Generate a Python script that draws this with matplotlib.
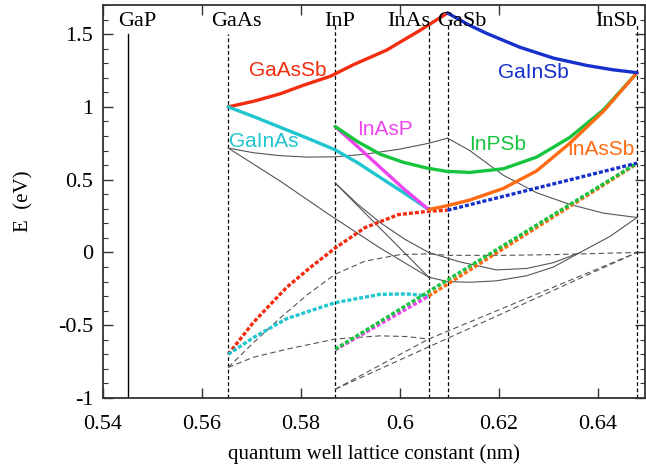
import matplotlib
matplotlib.use("Agg")
import matplotlib.pyplot as plt
from matplotlib.ticker import MultipleLocator, FormatStrFormatter

plt.rcParams['axes.unicode_minus'] = False

# binary end points (lattice constant, nm)
materials = ['GaP', 'GaAs', 'InP', 'InAs', 'GaSb', 'InSb']
lattice = [0.5451, 0.5653, 0.5869, 0.6058, 0.6096, 0.6479]
label_x = [0.5469, 0.5669, 0.5879, 0.6018, 0.6125, 0.6436]
line_top = [1.5, 1.5, 1.56, 1.56, 1.56, 1.56]

# conduction bands (thick solid)
gaassb_cb_x = [0.5653, 0.5706, 0.5758, 0.5806, 0.5859, 0.5906, 0.5973, 0.6040, 0.6096]
gaassb_cb_e = [1.00, 1.04, 1.09, 1.15, 1.21, 1.29, 1.39, 1.525, 1.645]
gainas_cb_x = [0.5653, 0.5707, 0.5758, 0.5813, 0.5869, 0.5915, 0.5960, 0.6010, 0.6058]
gainas_cb_e = [1.00, 0.93, 0.86, 0.785, 0.705, 0.615, 0.515, 0.405, 0.295]
inasp_cb_x = [0.5869, 0.5915, 0.5963, 0.6010, 0.6058]
inasp_cb_e = [0.865, 0.725, 0.575, 0.43, 0.295]
inpsb_cb_x = [0.5869, 0.5915, 0.5960, 0.6006, 0.6054, 0.6094, 0.6141, 0.6209, 0.6276, 0.6343, 0.6411, 0.6479]
inpsb_cb_e = [0.865, 0.76, 0.675, 0.62, 0.58, 0.557, 0.55, 0.575, 0.655, 0.79, 0.98, 1.235]
inassb_cb_x = [0.6058, 0.6094, 0.6141, 0.6209, 0.6276, 0.6343, 0.6411, 0.6479]
inassb_cb_e = [0.295, 0.32, 0.36, 0.44, 0.56, 0.75, 0.97, 1.235]
gainsb_cb_x = [0.6096, 0.6141, 0.6175, 0.6242, 0.6310, 0.6377, 0.6430, 0.6479]
gainsb_cb_e = [1.645, 1.56, 1.505, 1.41, 1.335, 1.285, 1.255, 1.235]

# valence bands (thick dotted)
gaassb_vb_x = [0.5653, 0.5704, 0.5771, 0.5820, 0.5869, 0.5929, 0.5997, 0.6058, 0.6096]
gaassb_vb_e = [-0.70, -0.48, -0.24, -0.10, 0.03, 0.17, 0.26, 0.283, 0.29]
gainas_vb_x = [0.5653, 0.5704, 0.5771, 0.5869, 0.5960, 0.6014, 0.6058]
gainas_vb_e = [-0.70, -0.585, -0.455, -0.345, -0.288, -0.285, -0.30]
inasp_vb_x = [0.5869, 0.6058]
inasp_vb_e = [-0.67, -0.30]
inpsb_vb_x = [0.5869, 0.6479]
inpsb_vb_e = [-0.665, 0.614]
inassb_vb_x = [0.6058, 0.6479]
inassb_vb_e = [-0.30, 0.61]
gainsb_vb_x = [0.6096, 0.6479]
gainsb_vb_e = [0.29, 0.614]

# thin solid gray bands
thin_solid = [
    ([0.5653, 0.5704, 0.5758, 0.5813, 0.5869, 0.5929, 0.6000, 0.6058, 0.6096],
     [0.717, 0.685, 0.665, 0.655, 0.657, 0.675, 0.71, 0.75, 0.785]),
    ([0.6096, 0.6141, 0.6209, 0.6276, 0.6343, 0.6411, 0.6479],
     [0.785, 0.70, 0.53, 0.41, 0.33, 0.27, 0.24]),
    ([0.5653, 0.5758, 0.5859, 0.5960, 0.6058],
     [0.717, 0.49, 0.255, 0.03, -0.17]),
    ([0.5869, 0.6058],
     [0.477, -0.17]),
    ([0.5869, 0.5915, 0.5960, 0.6010, 0.6058, 0.6121, 0.6195, 0.6256, 0.6310, 0.6364, 0.6424, 0.6479],
     [0.477, 0.33, 0.205, 0.09, 0.0, -0.065, -0.12, -0.11, -0.07, 0.0, 0.11, 0.24]),
    ([0.6058, 0.6096, 0.6141, 0.6195, 0.6256, 0.6310, 0.6364],
     [-0.17, -0.20, -0.205, -0.195, -0.16, -0.10, 0.0]),
]

# thin dashed gray bands
thin_dashed = [
    ([0.5653, 0.5704, 0.5758, 0.5813, 0.5869, 0.5929, 0.6000, 0.6058, 0.6096],
     [-0.79, -0.62, -0.45, -0.29, -0.15, -0.06, -0.015, -0.01, -0.02]),
    ([0.5653, 0.5704, 0.5771, 0.5869, 0.5960, 0.6014, 0.6058],
     [-0.79, -0.72, -0.665, -0.595, -0.573, -0.578, -0.595]),
    ([0.6096, 0.6209, 0.6310, 0.6479],
     [-0.02, -0.02, -0.015, 0.0]),
    ([0.5869, 0.6479], [-0.94, 0.0]),
    ([0.5869, 0.6058], [-0.94, -0.595]),
    ([0.6058, 0.6479], [-0.595, 0.0]),
]

c_red = '#f42c10'
c_cyan = '#1fc6d0'
c_mag = '#ee44ee'
c_green = '#16c43e'
c_orange = '#ff6a12'
c_blue = '#1630cc'

curve_labels = ['GaAsSb', 'GaInAs', 'InAsP', 'InPSb', 'InAsSb', 'GaInSb']
curve_label_x = [0.5774, 0.5725, 0.5970, 0.6198, 0.6406, 0.6270]
curve_label_e = [1.253, 0.76, 0.846, 0.743, 0.705, 1.236]
curve_label_c = [c_red, c_cyan, c_mag, c_green, c_orange, c_blue]

fig = plt.figure(figsize=(6.46, 4.68), dpi=100)
ax = fig.add_axes([0.1594, 0.1496, 0.8391, 0.8397])

for i, (m, a) in enumerate(zip(materials, lattice)):
    ls = '-' if m == 'GaP' else (0, (3, 2))
    ax.plot([a, a], [-1, line_top[i]], color='black', lw=1.0 if m == 'GaP' else 0.9, ls=ls, zorder=1)
    ax.text(label_x[i], 1.59, m, ha='center', va='center', fontsize=16,
            family='Liberation Serif', zorder=5)

for xs, es in thin_solid:
    ax.plot(xs, es, color='#555555', lw=0.8, zorder=2)
for xs, es in thin_dashed:
    ax.plot(xs, es, color='#555555', lw=0.8, ls=(0, (5, 3)), zorder=2)

dot = (0, (1.2, 0.6))
lw = 2.4
ax.plot(gaassb_vb_x, gaassb_vb_e, color=c_red, lw=lw, ls=dot, zorder=3)
ax.plot(gainas_vb_x, gainas_vb_e, color=c_cyan, lw=lw, ls=dot, zorder=3)
ax.plot(inasp_vb_x, inasp_vb_e, color=c_mag, lw=lw, ls=dot, zorder=3)
ax.plot(inassb_vb_x, inassb_vb_e, color=c_orange, lw=lw, ls=dot, zorder=3)
ax.plot(inpsb_vb_x, inpsb_vb_e, color=c_green, lw=lw, ls=dot, zorder=3)
ax.plot(gainsb_vb_x, gainsb_vb_e, color=c_blue, lw=lw, ls=dot, zorder=3)

ax.plot(gaassb_cb_x, gaassb_cb_e, color=c_red, lw=lw, zorder=4, solid_capstyle='round')
ax.plot(gainas_cb_x, gainas_cb_e, color=c_cyan, lw=lw, zorder=4, solid_capstyle='round')
ax.plot(inasp_cb_x, inasp_cb_e, color=c_mag, lw=lw, zorder=4, solid_capstyle='round')
ax.plot(inpsb_cb_x, inpsb_cb_e, color=c_green, lw=lw, zorder=4, solid_capstyle='round')
ax.plot(inassb_cb_x, inassb_cb_e, color=c_orange, lw=lw, zorder=4, solid_capstyle='round')
ax.plot(gainsb_cb_x, gainsb_cb_e, color=c_blue, lw=lw, zorder=4, solid_capstyle='round')

for t, x, e, c in zip(curve_labels, curve_label_x, curve_label_e, curve_label_c):
    ax.text(x, e, t, color=c, ha='center', va='center', fontsize=15,
            family='Liberation Sans', zorder=6)

ax.set_xlim(0.54, 0.6495)
ax.set_ylim(-1, 1.7)
ax.xaxis.set_major_locator(MultipleLocator(0.02))
ax.yaxis.set_major_locator(MultipleLocator(0.5))
ax.yaxis.set_minor_locator(MultipleLocator(0.1))
ax.xaxis.set_major_formatter(FormatStrFormatter('%g'))
ax.yaxis.set_major_formatter(FormatStrFormatter('%g'))
ax.tick_params(which='both', direction='in', top=True, right=True, color='#333333')
ax.tick_params(which='major', length=7, width=1.0, labelsize=16, pad=7)
ax.tick_params(axis='x', which='major', pad=12)
ax.tick_params(which='minor', length=3.5, width=0.8)
for lab in ax.get_xticklabels() + ax.get_yticklabels():
    lab.set_family('Liberation Serif')
for s in ax.spines.values():
    s.set_linewidth(1.3)
    s.set_color('#333333')

ax.set_xlabel('quantum well lattice constant (nm)', fontsize=15, family='Liberation Serif', labelpad=8)
ax.set_ylabel('E  (eV)', fontsize=15, family='Liberation Serif', labelpad=18)

fig.savefig('out.png', dpi=100)
